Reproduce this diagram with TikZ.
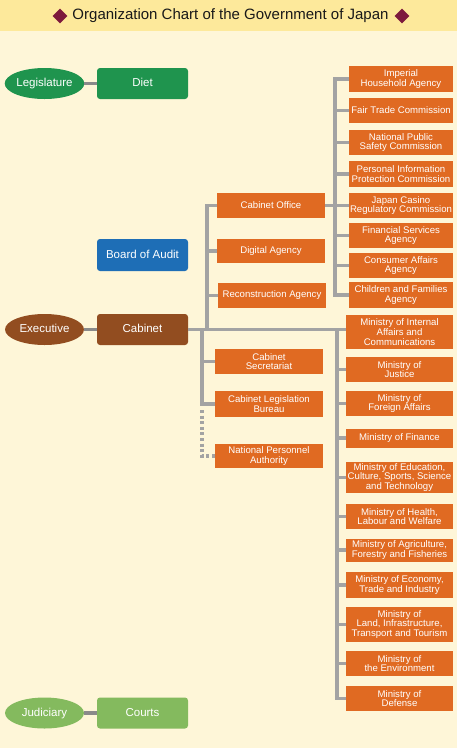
\documentclass[tikz,border=0pt]{standalone}
\usepackage{fontspec}
\setmainfont{Liberation Sans}
\usetikzlibrary{shapes.geometric}
\definecolor{bg}{HTML}{FEF6D8}
\definecolor{band}{HTML}{FDE99B}
\definecolor{maroon}{HTML}{7D1A3C}
\definecolor{orng}{HTML}{E06A22}
\definecolor{dgreen}{HTML}{1F944E}
\definecolor{lgreen}{HTML}{84BA5E}
\definecolor{brwn}{HTML}{924D20}
\definecolor{blu}{HTML}{1E6EB6}
\definecolor{lgray}{HTML}{A3A3A3}
\definecolor{dgray}{HTML}{8A8A8A}
\begin{document}
\begin{tikzpicture}[x=1pt,y=-1pt,
  obox/.style={fill=orng,text=white,font=\fontsize{9.6}{9.6}\selectfont,align=center,inner sep=0pt},
  bbox/.style={text=white,font=\fontsize{11.5}{12}\selectfont,align=center,inner sep=0pt,rounded corners=3pt,minimum width=91pt,minimum height=31pt,text height=8.3pt,text depth=2.3pt},
  ell/.style={ellipse,text=white,font=\fontsize{11.5}{12}\selectfont,inner sep=0pt,minimum width=79pt,minimum height=31pt,text height=8.3pt,text depth=2.3pt},
  conn/.style={draw=lgray,line width=3.6pt},
  dconn/.style={draw=lgray,line width=3.6pt,dash pattern=on 3pt off 2.6pt},
  econn/.style={draw=dgray,line width=3.4pt},
  dia/.style={diamond,fill=maroon,inner sep=0pt,minimum size=15pt}]
\fill[bg] (0,0) rectangle (457,748);
\fill[band] (0,0) rectangle (457,31);
\useasboundingbox (0,0) rectangle (457,748);

% title
\node[dia] (dl) at (60,16) {};
\node[dia] (dr) at (402,16) {};
\node[font=\fontsize{15}{16}\selectfont,text=black!90] (title) at (230.5,16) {Organization Chart of the Government of Japan};

% branches
\node[ell,fill=dgreen] (leg) at (44.5,83.5) {Legislature};
\node[bbox,fill=dgreen] (diet) at (142.5,83.5) {Diet};
\node[ell,fill=brwn] (exe) at (44.5,329.5) {Executive};
\node[bbox,fill=brwn] (cabinet) at (142.5,329.5) {Cabinet};
\node[ell,fill=lgreen] (jud) at (44.5,713) {Judiciary};
\node[bbox,fill=lgreen] (courts) at (142.5,713) {Courts};
\node[bbox,fill=blu,minimum height=32pt] (audit) at (142.5,255) {Board of Audit};

% left column
\node[obox,minimum width=108pt,minimum height=25pt] (cabo) at (271,205.5) {Cabinet Office};
\node[obox,minimum width=108pt,minimum height=24pt] (digi) at (271,251) {Digital Agency};
\node[obox,minimum width=108pt,minimum height=25pt] (reco) at (272,295.5) {Reconstruction Agency};
\node[obox,minimum width=108pt,minimum height=25pt] (csec) at (269,361.5) {Cabinet\\Secretariat};
\node[obox,minimum width=108pt,minimum height=26pt] (clb) at (269,404) {Cabinet Legislation\\Bureau};
\node[obox,minimum width=108pt,minimum height=24pt] (npa) at (269,456) {National Personnel\\Authority};

% cabinet office column
\node[obox,minimum width=104pt,minimum height=26pt] (iha) at (401,79) {Imperial\\Household Agency};
\node[obox,minimum width=104pt,minimum height=25pt] (ftc) at (401,110.5) {Fair Trade Commission};
\node[obox,minimum width=104pt,minimum height=25pt] (npsc) at (401,142.5) {National Public\\Safety Commission};
\node[obox,minimum width=104pt,minimum height=26pt] (ppc) at (401,174) {Personal Information\\Protection Commission};
\node[obox,minimum width=104pt,minimum height=25pt] (jcrc) at (401,205.5) {Japan Casino\\Regulatory Commission};
\node[obox,minimum width=104pt,minimum height=25pt] (fsa) at (401,235.5) {Financial Services\\Agency};
\node[obox,minimum width=104pt,minimum height=25pt] (caa) at (401,265.5) {Consumer Affairs\\Agency};
\node[obox,minimum width=104pt,minimum height=26pt] (cfa) at (401,295) {Children and Families\\Agency};

% ministries
\node[obox,minimum width=107pt,minimum height=34pt] (miac) at (399.5,332) {Ministry of Internal\\Affairs and\\Communications};
\node[obox,minimum width=107pt,minimum height=25pt] (moj) at (399.5,369.5) {Ministry of\\Justice};
\node[obox,minimum width=107pt,minimum height=25pt] (mofa) at (399.5,403.5) {Ministry of\\Foreign Affairs};
\node[obox,minimum width=107pt,minimum height=19pt] (mof) at (399.5,438) {Ministry of Finance};
\node[obox,minimum width=107pt,minimum height=31pt] (mext) at (399.5,477.5) {Ministry of Education,\\Culture, Sports, Science\\and Technology};
\node[obox,minimum width=107pt,minimum height=25pt] (mhlw) at (399.5,516.5) {Ministry of Health,\\Labour and Welfare};
\node[obox,minimum width=107pt,minimum height=23pt] (maff) at (399.5,550) {Ministry of Agriculture,\\Forestry and Fisheries};
\node[obox,minimum width=107pt,minimum height=26pt] (meti) at (399.5,585) {Ministry of Economy,\\Trade and Industry};
\node[obox,minimum width=107pt,minimum height=35pt] (mlit) at (399.5,624.5) {Ministry of\\Land, Infrastructure,\\Transport and Tourism};
\node[obox,minimum width=107pt,minimum height=25pt] (moe) at (399.5,663.5) {Ministry of\\the Environment};
\node[obox,minimum width=107pt,minimum height=25pt] (mod) at (399.5,698.5) {Ministry of\\Defense};

% junction coordinates
\coordinate (vA) at (207,329.5);
\coordinate (vB) at (202,329.5);
\coordinate (vC) at (335,205.5);
\coordinate (vD) at (337,329.5);
\coordinate (dotTop) at (202,410);

% ellipse links
\draw[econn] (leg.east) -- (diet.west);
\draw[econn] (exe.east) -- (cabinet.west);
\draw[econn] (jud.east) -- (courts.west);

% cabinet links
\draw[conn] (cabinet.east) -- (cabinet.east -| miac.west);
\draw[conn] (cabo.west) -| (vA);
\draw[conn] (digi.west -| vA) -- (digi.west);
\draw[conn] (reco.west -| vA) -- (reco.west);
\draw[conn] (vB) |- (clb.west);
\draw[conn] (csec.west -| vB) -- (csec.west);
\draw[dconn] (dotTop) |- (npa.west);

% cabinet office links
\draw[conn] (cabo.east) -- (vC);
\draw[conn] (iha.west) -| (cfa.west -| vC) -- (cfa.west);
\foreach \n in {ftc,npsc,ppc,jcrc,fsa,caa}{\draw[conn] (\n.west -| vC) -- (\n.west);}

% ministries links
\draw[conn] (vD) |- (mod.west);
\foreach \n in {moj,mofa,mof,mext,mhlw,maff,meti,mlit,moe}{\draw[conn] (\n.west -| vD) -- (\n.west);}
\end{tikzpicture}
\end{document}
